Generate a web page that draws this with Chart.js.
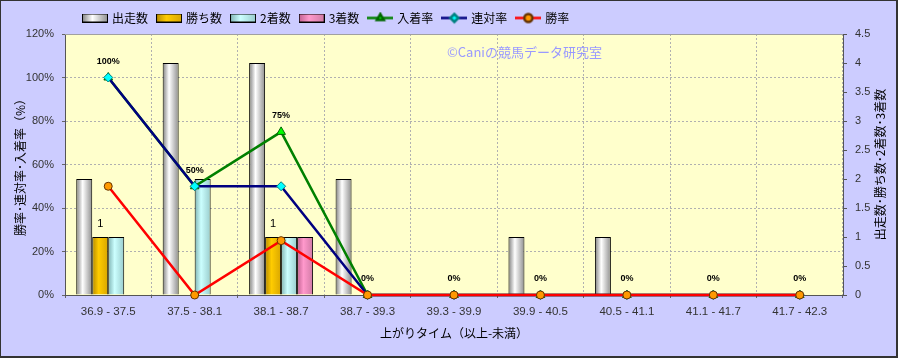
<!DOCTYPE html>
<html lang="ja">
<head>
<meta charset="utf-8">
<title>上がりタイム別成績</title>
<script src="https://cdn.jsdelivr.net/npm/chart.js@4.4.1/dist/chart.umd.min.js"></script>
<style>
  html, body { margin: 0; padding: 0; background: #ccccff; }
  #wrap { width: 898px; height: 358px; }
</style>
</head>
<body>
<div id="wrap"><canvas id="chart" width="898" height="358"></canvas></div>
<script>
// データ
const timeLabels = ['36.9 - 37.5', '37.5 - 38.1', '38.1 - 38.7', '38.7 - 39.3', '39.3 - 39.9',
                    '39.9 - 40.5', '40.5 - 41.1', '41.1 - 41.7', '41.7 - 42.3'];
const runs      = [2, 4, 4, 2, 0, 1, 1, 0, 0];   // 出走数
const wins      = [1, 0, 1, 0, 0, 0, 0, 0, 0];   // 勝ち数
const seconds   = [1, 2, 1, 0, 0, 0, 0, 0, 0];   // 2着数
const thirds    = [0, 0, 1, 0, 0, 0, 0, 0, 0];   // 3着数
const placeRate = [100, 50, 75, 0, 0, 0, 0, 0, 0]; // 入着率
const rentaiRate = [100, 50, 50, 0, 0, 0, 0, 0, 0]; // 連対率
const winRate   = [50, 0, 25, 0, 0, 0, 0, 0, 0];    // 勝率
const rateMax = 120, rateStep = 20;
const countMax = 4.5, countStep = 0.5;

const CJK = '"Noto Sans CJK JP", "Noto Sans", sans-serif';
const LAT = '"Liberation Sans", Arial, sans-serif';
const CAT_PCT = 0.74;

// 棒のグラデーション (左端, 明るい部分, 右端)
const runsGrad   = ['#7f7f7f', '#ffffff', '#8e8e8e'];
const winsGrad   = ['#b58900', '#ffcc00', '#d9a600'];
const secondGrad = ['#7fb3b3', '#ccffff', '#99cccc'];
const thirdGrad  = ['#c06090', '#ff99cc', '#d07aa5'];

function barFill(stops, k) {
    return c => {
        const x = c.chart.scales.x;
        if (!x || c.dataIndex === undefined) return stops[1];
        const gw = x.width / timeLabels.length * CAT_PCT;
        const bw = gw / 4;
        const left = x.getPixelForValue(c.dataIndex) - gw / 2 + k * bw;
        const g = c.chart.ctx.createLinearGradient(left, 0, left + bw, 0);
        g.addColorStop(0, stops[0]);
        g.addColorStop(0.4, stops[1]);
        g.addColorStop(1, stops[2]);
        return g;
    };
}

// 凡例アイコン
function barIcon(stops) {
    const c = document.createElement('canvas');
    c.width = 26; c.height = 9;
    const g = c.getContext('2d');
    const gr = g.createLinearGradient(0, 0, 26, 0);
    gr.addColorStop(0, stops[0]); gr.addColorStop(0.4, stops[1]); gr.addColorStop(1, stops[2]);
    g.fillStyle = gr;
    g.fillRect(0.5, 0.5, 25, 8);
    g.strokeStyle = '#000'; g.lineWidth = 1;
    g.strokeRect(0.5, 0.5, 25, 8);
    return c;
}
function lineIcon(color, style, fill, stroke, r) {
    const c = document.createElement('canvas');
    c.width = 26; c.height = 13;
    const g = c.getContext('2d');
    g.strokeStyle = color; g.lineWidth = 2.5;
    g.beginPath(); g.moveTo(0, 6.5); g.lineTo(26, 6.5); g.stroke();
    g.fillStyle = fill; g.strokeStyle = stroke;
    Chart.helpers.drawPoint(g, { pointStyle: style, radius: r, borderWidth: 1, rotation: 0 }, 13, 6.5);
    return c;
}

const lineStyles = {
    place:  { line: '#008000', style: 'triangle', fill: '#00ff00', stroke: '#006600', r: 5 },
    rentai: { line: '#000080', style: 'rectRot',  fill: '#00ffff', stroke: '#008080', r: 4.5 },
    win:    { line: '#ff0000', style: 'circle',   fill: '#ff9900', stroke: '#663300', r: 4 }
};

function lineSet(label, data, s, order) {
    return {
        type: 'line', label, data, yAxisID: 'y', order,
        borderColor: s.line, borderWidth: 2.5, tension: 0, clip: false,
        pointStyle: s.style, pointRadius: s.r, pointBackgroundColor: s.fill,
        pointBorderColor: s.stroke, pointBorderWidth: 1
    };
}
function barSet(label, data, stops, k) {
    return {
        type: 'bar', label, data, yAxisID: 'y2', order: 4,
        backgroundColor: barFill(stops, k), borderColor: '#000', borderWidth: 1,
        categoryPercentage: CAT_PCT, barPercentage: 1
    };
}

const datasets = [
    barSet('出走数', runs, runsGrad, 0),
    barSet('勝ち数', wins, winsGrad, 1),
    barSet('2着数', seconds, secondGrad, 2),
    barSet('3着数', thirds, thirdGrad, 3),
    lineSet('入着率', placeRate, lineStyles.place, 3),
    lineSet('連対率', rentaiRate, lineStyles.rentai, 2),
    lineSet('勝率', winRate, lineStyles.win, 1)
];

const legendIcons = [
    barIcon(runsGrad), barIcon(winsGrad), barIcon(secondGrad), barIcon(thirdGrad),
    lineIcon(lineStyles.place.line, 'triangle', lineStyles.place.fill, lineStyles.place.stroke, 4),
    lineIcon(lineStyles.rentai.line, 'rectRot', lineStyles.rentai.fill, lineStyles.rentai.stroke, 4),
    lineIcon(lineStyles.win.line, 'circle', lineStyles.win.fill, lineStyles.win.stroke, 4)
];

// 背景・透かし・データラベル・右軸タイトル
const decor = {
    id: 'decor',
    afterLayout(chart) {
        chart.legend.left = 74;
    },
    beforeDraw(chart) {
        const { ctx, chartArea: a } = chart;
        ctx.save();
        ctx.fillStyle = '#ccccff';
        ctx.fillRect(0, 0, chart.width, chart.height);
        ctx.fillStyle = '#ffffcc';
        ctx.fillRect(a.left, a.top, a.right - a.left, a.bottom - a.top);
        ctx.restore();
    },
    beforeDatasetsDraw(chart) {
        const { ctx, chartArea: a } = chart;
        ctx.save();
        ctx.strokeStyle = '#a0a0a0'; ctx.lineWidth = 1;
        ctx.beginPath(); ctx.moveTo(a.left, a.top + 0.5); ctx.lineTo(a.right, a.top + 0.5); ctx.stroke();
        ctx.fillStyle = '#9999ff';
        ctx.font = '13px ' + CJK;
        ctx.textBaseline = 'middle';
        ctx.fillText('©Caniの競馬データ研究室', a.left + (a.right - a.left) * 0.491, a.top + 18);
        ctx.restore();
    },
    afterDatasetsDraw(chart) {
        const ctx = chart.ctx;
        ctx.save();
        ctx.fillStyle = '#000';
        ctx.textAlign = 'center';
        ctx.textBaseline = 'middle';
        ctx.font = 'bold 9px ' + LAT;
        chart.getDatasetMeta(4).data.forEach((pt, i) => {
            ctx.fillText(placeRate[i] + '%', pt.x, pt.y - 16);
        });
        ctx.font = '11px ' + LAT;
        chart.getDatasetMeta(1).data.forEach((bar, i) => {
            if (wins[i] > 0) ctx.fillText(String(wins[i]), bar.x, bar.y - 13);
        });
        ctx.restore();
    },
    afterDraw(chart) {
        const { ctx, chartArea: a } = chart;
        ctx.save();
        ctx.translate(880, (a.top + a.bottom) / 2);
        ctx.rotate(-Math.PI / 2);
        ctx.fillStyle = '#000';
        ctx.font = '12px ' + CJK;
        ctx.textAlign = 'center';
        ctx.textBaseline = 'middle';
        ctx.fillText('出走数･勝ち数･2着数･3着数', 0, 0);
        ctx.restore();
        ctx.save();
        ctx.strokeStyle = '#333';
        ctx.lineWidth = 1;
        ctx.strokeRect(0.5, 0.5, chart.width - 1, chart.height - 1);
        ctx.lineWidth = 2;
        ctx.beginPath();
        ctx.moveTo(chart.width - 1, 0); ctx.lineTo(chart.width - 1, chart.height - 1); ctx.lineTo(0, chart.height - 1);
        ctx.stroke();
        ctx.restore();
    }
};

new Chart(document.getElementById('chart'), {
    data: { labels: timeLabels, datasets },
    options: {
        responsive: false,
        animation: false,
        devicePixelRatio: 1,
        layout: { padding: { top: 2, left: 0, right: 0, bottom: 0 } },
        plugins: {
            tooltip: { enabled: false },
            legend: {
                position: 'top',
                align: 'start',
                labels: {
                    usePointStyle: true,
                    pointStyleWidth: 22,
                    padding: 10,
                    color: '#000',
                    font: { family: CJK, size: 12 },
                    generateLabels: chart => chart.data.datasets.map((ds, i) => ({
                        text: ds.label, pointStyle: legendIcons[i], datasetIndex: i,
                        fontColor: '#000', hidden: false, lineWidth: 0,
                        strokeStyle: 'transparent', fillStyle: 'transparent'
                    }))
                }
            }
        },
        scales: {
            x: {
                afterFit: s => { s.height = 63; },
                grid: { offset: true, color: '#b0b0b0', tickLength: 3, tickColor: '#666' },
                border: { color: '#555', dash: [2, 2] },
                ticks: { color: '#333', padding: 7, font: { family: LAT, size: 11.5 } },
                title: {
                    display: true, text: '上がりタイム（以上-未満）', color: '#000',
                    font: { family: CJK, size: 12 }, padding: { top: 4, bottom: 17 }
                }
            },
            y: {
                position: 'left',
                min: 0, max: rateMax,
                afterFit: s => { s.width = 65; },
                ticks: { stepSize: rateStep, color: '#333', padding: 8, font: { family: LAT, size: 11 },
                         callback: v => v + '%' },
                grid: { color: '#b0b0b0', tickLength: 3, tickColor: '#666' },
                border: { color: '#555', dash: [2, 2] },
                title: {
                    display: true, text: '勝率･連対率･入着率（%）', color: '#000',
                    font: { family: CJK, size: 12 }, padding: { top: 13 }
                }
            },
            y2: {
                position: 'right',
                min: 0, max: countMax,
                afterFit: s => { s.width = 55; },
                ticks: { stepSize: countStep, color: '#333', padding: 8, font: { family: LAT, size: 11 },
                         callback: v => String(v) },
                grid: { drawOnChartArea: false, tickLength: 4, tickColor: '#555' },
                border: { color: '#555' }
            }
        }
    },
    plugins: [decor]
});
</script>
</body>
</html>
